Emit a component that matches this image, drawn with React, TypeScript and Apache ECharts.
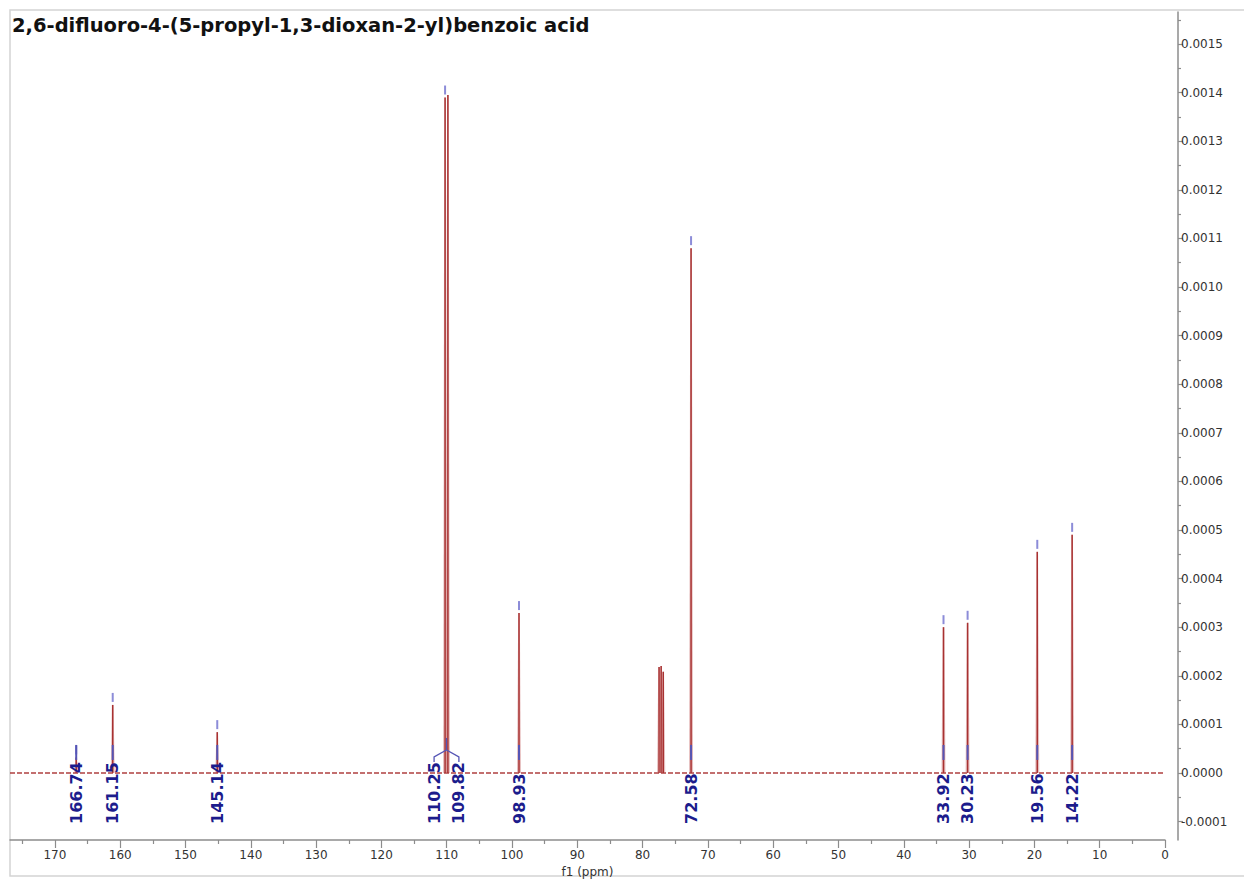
import React, { useEffect, useRef } from "react";
import * as echarts from "echarts";

const chartTitle = "2,6-difluoro-4-(5-propyl-1,3-dioxan-2-yl)benzoic acid";
const axisName = "f1 (ppm)";

// spectrum peaks (ppm, intensity)
const peakPpm = [166.74, 161.15, 145.14, 110.25, 109.82, 98.93, 77.48, 77.16, 76.84, 72.58, 33.92, 30.23, 19.56, 14.22];
const peakHeight = [0.000032, 0.00014, 0.000084, 0.00139, 0.001395, 0.000329, 0.000218, 0.00022, 0.000208, 0.00108, 0.0003, 0.000309, 0.000455, 0.00049];

// picked / labelled peaks
const labeledPpm = [166.74, 161.15, 145.14, 110.25, 109.82, 98.93, 72.58, 33.92, 30.23, 19.56, 14.22];

const xRange = [0, 176.88];
const yRange = [-0.000138, 0.001566];
const xMajorTicks = [0, 10, 20, 30, 40, 50, 60, 70, 80, 90, 100, 110, 120, 130, 140, 150, 160, 170];
const xMinorTicks = [5, 15, 25, 35, 45, 55, 65, 75, 85, 95, 105, 115, 125, 135, 145, 155, 165, 175];
const yMajorTicks = [-0.0001, 0, 0.0001, 0.0002, 0.0003, 0.0004, 0.0005, 0.0006, 0.0007, 0.0008, 0.0009, 0.001, 0.0011, 0.0012, 0.0013, 0.0014, 0.0015];
const yMinorTicks = [-0.00005, 0.00005, 0.00015, 0.00025, 0.00035, 0.00045, 0.00055, 0.00065, 0.00075, 0.00085, 0.00095, 0.00105, 0.00115, 0.00125, 0.00135, 0.00145, 0.00155];

const RED = "#a83232";
const LABEL_BLUE = "#1c1c8c";
const FONT = "'DejaVu Sans', Verdana, sans-serif";

function heightOf(p: number) {
  const i = peakPpm.indexOf(p);
  return i >= 0 ? peakHeight[i] : 0;
}

export default function App() {
  const ref = useRef<HTMLDivElement>(null);
  useEffect(() => {
    if (!ref.current) return;
    const chart = echarts.init(ref.current, undefined, { renderer: "svg" });
    const axisGray = "#8c8c8c";
    const peakData = peakPpm.map((p, i) => [p, peakHeight[i]]);
    const labelData = labeledPpm.map((p) => [p, heightOf(p)]);

    const option: any = {
      animation: false,
      backgroundColor: "#ffffff",
      grid: { left: 10, right: 79, top: 12, bottom: 40, containLabel: false, outerBoundsMode: "none" },
      graphic: [
        {
          type: "rect",
          shape: { x: 10, y: 10, width: 1250, height: 866 },
          style: { fill: "none", stroke: "#d4d4d4", lineWidth: 1.5 },
          silent: true,
          z: -1,
        },
        {
          type: "text",
          left: 12,
          top: 15,
          style: {
            text: chartTitle,
            fill: "#111111",
            font: `bold 19.5px ${FONT}`,
          },
        },
      ],
      xAxis: [
        {
          type: "value",
          inverse: true,
          min: xRange[0],
          max: xRange[1],
          position: "bottom",
          name: axisName,
          nameLocation: "middle",
          nameGap: 26,
          nameMoveOverlap: false,
          nameTextStyle: { color: "#333", fontSize: 12, fontFamily: FONT, verticalAlign: "top" },
          axisLine: { show: true, onZero: false, lineStyle: { color: axisGray, width: 1.5 } },
          axisTick: { show: true, customValues: xMajorTicks, length: 8, inside: false, lineStyle: { color: axisGray, width: 1.2 } },
          axisLabel: { customValues: xMajorTicks, color: "#333", fontSize: 12, fontFamily: FONT, margin: 9 },
          splitLine: { show: false },
        },
        {
          type: "value",
          inverse: true,
          min: xRange[0],
          max: xRange[1],
          position: "bottom",
          axisLine: { show: false, onZero: false },
          axisTick: { show: true, customValues: xMinorTicks, length: 4, lineStyle: { color: axisGray, width: 1.2 } },
          axisLabel: { show: false },
          splitLine: { show: false },
        },
      ],
      yAxis: [
        {
          type: "value",
          position: "right",
          offset: 13,
          min: yRange[0],
          max: yRange[1],
          axisLine: { show: true, onZero: false, lineStyle: { color: axisGray, width: 1.5 } },
          axisTick: { show: true, customValues: yMajorTicks, length: 5, lineStyle: { color: axisGray, width: 1.2 } },
          axisLabel: {
            customValues: yMajorTicks,
            color: "#333",
            fontSize: 12,
            fontFamily: FONT,
            margin: 3,
            formatter: (v: number) => v.toFixed(4),
          },
          splitLine: { show: false },
        },
        {
          type: "value",
          position: "right",
          offset: 13,
          min: yRange[0],
          max: yRange[1],
          axisLine: { show: false, onZero: false },
          axisTick: { show: true, customValues: yMinorTicks, length: 3, lineStyle: { color: axisGray, width: 1.2 } },
          axisLabel: { show: false },
          splitLine: { show: false },
        },
      ],
      series: [
        {
          type: "line",
          xAxisIndex: 0,
          yAxisIndex: 0,
          data: [[xRange[1], 0], [xRange[0], 0]],
          symbol: "none",
          lineStyle: { color: "#b04040", width: 1.5, type: [5, 2] },
          silent: true,
          z: 2,
        },
        {
          type: "custom",
          xAxisIndex: 0,
          yAxisIndex: 0,
          data: peakData,
          silent: true,
          z: 3,
          renderItem: (params: any, api: any) => {
            const p = api.value(0);
            const h = api.value(1);
            const b = api.coord([p, 0]);
            const t = api.coord([p, h]);
            return {
              type: "group",
              children: [
                {
                  type: "polygon",
                  shape: { points: [[b[0] - 2, b[1]], [t[0] - 0.8, t[1]], [t[0] + 0.8, t[1]], [b[0] + 2, b[1]]] },
                  style: { fill: "rgba(200,110,110,0.45)" },
                },
                {
                  type: "line",
                  shape: { x1: b[0], y1: b[1], x2: t[0], y2: t[1] },
                  style: { stroke: RED, lineWidth: 1.5 },
                },
              ],
            };
          },
        },
        {
          type: "custom",
          xAxisIndex: 0,
          yAxisIndex: 0,
          data: labelData,
          silent: true,
          z: 4,
          clip: false,
          renderItem: (params: any, api: any) => {
            const idx = params.dataIndex;
            const p = api.value(0);
            const h = api.value(1);
            const b = api.coord([p, 0]);
            const t = api.coord([p, h]);
            const prev = idx > 0 ? labeledPpm[idx - 1] : null;
            const next = idx < labeledPpm.length - 1 ? labeledPpm[idx + 1] : null;
            const pairedNext = next !== null && Math.abs(p - next) < 1;
            const pairedPrev = prev !== null && Math.abs(prev - p) < 1;
            let lx = b[0];
            if (pairedNext) lx = b[0] - 11;
            if (pairedPrev) lx = b[0] + 11;
            const children: any[] = [];
            if (!pairedPrev) {
              children.push({
                type: "line",
                shape: { x1: t[0], y1: t[1] - 3, x2: t[0], y2: t[1] - 12 },
                style: { stroke: "#8c8cd8", lineWidth: 2 },
              });
            }
            if (!pairedNext && !pairedPrev) {
              children.push({
                type: "line",
                shape: { x1: b[0], y1: b[1] - 13, x2: b[0], y2: b[1] - 28 },
                style: { stroke: "#5555b5", lineWidth: 2 },
              });
            } else if (pairedNext && next !== null) {
              const nb = api.coord([next, 0]);
              const mid = (b[0] + nb[0]) / 2;
              const left = b[0] - 11;
              const right = nb[0] + 11;
              children.push({
                type: "polyline",
                shape: { points: [[left, b[1] - 11], [left, b[1] - 16], [mid, b[1] - 23], [right, b[1] - 16], [right, b[1] - 11]] },
                style: { stroke: "#5555b5", lineWidth: 1.3, fill: "none" },
              });
              children.push({
                type: "line",
                shape: { x1: mid, y1: b[1] - 23, x2: mid, y2: b[1] - 35 },
                style: { stroke: "#5555b5", lineWidth: 1.3 },
              });
            }
            children.push({
              type: "text",
              x: lx,
              y: b[1] + 51,
              rotation: Math.PI / 2,
              style: {
                text: p.toFixed(2),
                fill: LABEL_BLUE,
                font: `bold 16px ${FONT}`,
                align: "left",
                verticalAlign: "middle",
              },
            });
            return { type: "group", children };
          },
        },
      ],
    };
    chart.setOption(option);
    return () => chart.dispose();
  }, []);
  return (
    <div
      ref={ref}
      style={{ position: "fixed", left: 0, top: 0, width: 1244, height: 880, background: "#fff" }}
    />
  );
}
